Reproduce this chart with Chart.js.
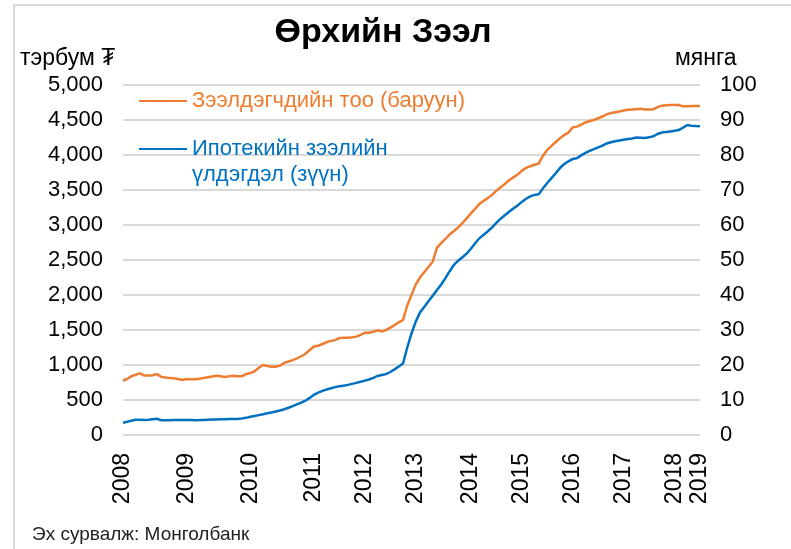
<!DOCTYPE html>
<html>
<head>
<meta charset="utf-8">
<script src="https://cdn.jsdelivr.net/npm/chart.js@4"></script>
<style>
  body { margin: 0; background: #fff; font-family: "Liberation Sans", Arial, sans-serif; }
  #wrap { position: relative; width: 791px; height: 549px; overflow: hidden; }
  #frame { position: absolute; left: 13px; top: 4px; width: 900px; height: 700px;
           border-left: 2px solid #d9d9d9; border-top: 2px solid #d9d9d9; }
  #chart { position: absolute; left: 0; top: 0; }
  .txt { position: absolute; white-space: nowrap; color: #000; }
  #title { left: 0; width: 766px; text-align: center; top: 11px; font-size: 34px; font-weight: bold; }
  #unitL { left: 20px; top: 44px; font-size: 23px; }
  #unitR { left: 675px; top: 44px; font-size: 23px; }
  #source { left: 32px; top: 523px; font-size: 19px; color: #222; }
  .leg { position: absolute; font-size: 22px; line-height: 26px; }
  .leg i { position: absolute; left: 0; width: 48px; height: 2px; }
  .leg span { position: absolute; left: 53px; top: 0; white-space: nowrap; }
</style>
</head>
<body>
<div id="wrap">
  <div id="frame"></div>
  <canvas id="chart" width="791" height="549"></canvas>
  <div class="txt" id="title">Өрхийн Зээл</div>
  <div class="txt" id="unitL">тэрбум ₮</div>
  <div class="txt" id="unitR">мянга</div>
  <div class="leg" id="legOrange" style="left:139px; top:87px; color:#ED7D31;">
    <i style="top:13px; background:#ED7D31;"></i><span>Зээлдэгчдийн тоо (баруун)</span>
  </div>
  <div class="leg" id="legBlue" style="left:139px; top:135px; color:#0070C0;">
    <i style="top:13px; background:#0070C0;"></i><span>Ипотекийн зээлийн<br>үлдэгдэл (зүүн)</span>
  </div>
  <div class="txt" id="source">Эх сурвалж: Монголбанк</div>
</div>
<script>
// year labels on the category axis and where they sit
const tickYears = ['2008', '2009', '2010', '2011', '2012', '2013', '2014', '2015', '2016', '2017', '2018', '2019'];
const tickIndex = [0, 15, 30, 45, 57, 69, 82, 94, 106, 118, 130, 136];

// number of borrowers, thousand (right axis)
const borrowers = [
  15.5, 16.0, 16.8, 17.2, 17.6, 17.0, 17.0, 17.1, 17.4, 16.6,
  16.4, 16.3, 16.2, 16.0, 15.7, 16.0, 15.9, 15.9, 16.1, 16.3,
  16.5, 16.7, 16.9, 16.8, 16.6, 16.8, 16.9, 16.8, 16.8, 17.4,
  17.7, 18.2, 19.2, 20.0, 19.7, 19.5, 19.5, 19.8, 20.6, 21.0,
  21.4, 21.9, 22.5, 23.2, 24.3, 25.3, 25.5, 26.0, 26.5, 26.9,
  27.1, 27.7, 27.8, 27.8, 27.9, 28.1, 28.6, 29.2, 29.2, 29.5,
  29.9, 29.6, 30.0, 30.7, 31.4, 32.2, 32.9, 37.0, 40.0, 43.0,
  45.0, 46.5, 48.0, 49.5, 53.5, 54.8, 56.0, 57.3, 58.3, 59.3,
  60.5, 61.9, 63.3, 64.6, 66.0, 66.9, 67.7, 68.6, 69.8, 70.8,
  71.7, 72.8, 73.6, 74.4, 75.5, 76.3, 76.8, 77.2, 77.6, 79.8,
  81.5, 82.6, 83.7, 84.8, 85.7, 86.4, 87.9, 88.1, 88.7, 89.3,
  89.7, 90.0, 90.5, 91.0, 91.6, 92.0, 92.2, 92.4, 92.7, 92.9,
  93.0, 93.1, 93.2, 93.0, 93.0, 93.1, 93.7, 94.1, 94.2, 94.3,
  94.3, 94.3, 93.9, 93.9, 94.0, 94.0, 94.0
];

// mortgage loan balance, billion MNT (left axis)
const loanBalance = [
  176, 190, 205, 217, 218, 216, 218, 225, 232, 212,
  211, 212, 213, 213, 214, 214, 213, 212, 213, 216,
  218, 220, 223, 225, 226, 227, 228, 229, 236, 245,
  260, 272, 284, 296, 310, 322, 336, 350, 368, 390,
  413, 438, 463, 490, 530, 575, 604, 630, 650, 668,
  684, 695, 705, 716, 730, 745, 760, 777, 793, 815,
  843, 856, 870, 900, 937, 978, 1020, 1250, 1450, 1620,
  1750, 1830, 1910, 1990, 2070, 2150, 2240, 2340, 2430, 2490,
  2540, 2590, 2660, 2740, 2810, 2860, 2910, 2965, 3030, 3090,
  3140, 3190, 3235, 3280, 3330, 3375, 3410, 3430, 3440, 3525,
  3600, 3670, 3740, 3815, 3870, 3910, 3942, 3955, 3995, 4030,
  4060, 4085, 4110, 4135, 4165, 4183, 4195, 4207, 4218, 4228,
  4237, 4250, 4248, 4243, 4252, 4268, 4300, 4322, 4328, 4336,
  4345, 4357, 4390, 4429, 4418, 4414, 4412
];

const categories = loanBalance.map((v, i) => i);
const yearAt = {};
tickIndex.forEach((idx, k) => { yearAt[idx] = tickYears[k]; });

const fontFamily = '"Liberation Sans", Arial, sans-serif';

new Chart(document.getElementById('chart'), {
    type: 'line',
    data: {
        labels: categories,
        datasets: [
            {
                label: 'Зээлдэгчдийн тоо (баруун)',
                data: borrowers,
                yAxisID: 'yR',
                borderColor: '#ED7D31',
                borderWidth: 2.5,
                pointRadius: 0,
                tension: 0
            },
            {
                label: 'Ипотекийн зээлийн үлдэгдэл (зүүн)',
                data: loanBalance,
                yAxisID: 'yL',
                borderColor: '#0070C0',
                borderWidth: 2.5,
                pointRadius: 0,
                tension: 0
            }
        ]
    },
    options: {
        responsive: false,
        animation: false,
        layout: { padding: { top: 85, left: 0, right: 0, bottom: 0 } },
        plugins: {
            legend: { display: false },
            tooltip: { enabled: false }
        },
        scales: {
            x: {
                offset: false,
                grid: { display: false },
                border: { display: false },
                ticks: {
                    autoSkip: false,
                    minRotation: 90,
                    maxRotation: 90,
                    padding: 10,
                    color: '#000',
                    font: { family: fontFamily, size: 23 },
                    callback: (v, i) => yearAt[i] || ''
                },
                afterFit: (scale) => { scale.height = 114; }
            },
            yL: {
                position: 'left',
                min: 0,
                max: 5000,
                ticks: {
                    stepSize: 500,
                    padding: 20,
                    color: '#000',
                    font: { family: fontFamily, size: 22 },
                    callback: (v) => v.toLocaleString('en-US')
                },
                grid: { color: '#d9d9d9', lineWidth: 2, drawTicks: false },
                border: { display: false },
                afterFit: (scale) => { scale.width = 123; }
            },
            yR: {
                position: 'right',
                min: 0,
                max: 100,
                ticks: {
                    stepSize: 10,
                    padding: 20,
                    color: '#000',
                    font: { family: fontFamily, size: 22 }
                },
                grid: { display: false, drawTicks: false },
                border: { display: false },
                afterFit: (scale) => { scale.width = 91; }
            }
        }
    }
});
</script>
</body>
</html>
